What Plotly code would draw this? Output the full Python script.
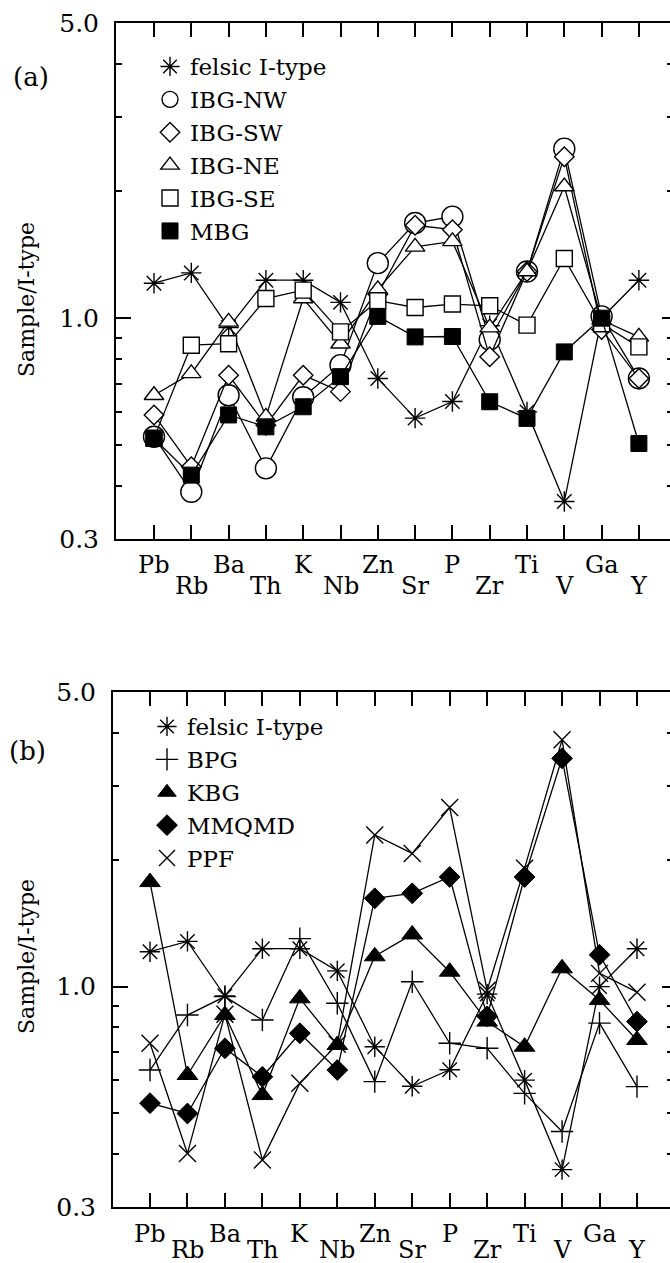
import math
import plotly.graph_objects as go

# ---------------- data ----------------
categories = ["Pb", "Rb", "Ba", "Th", "K", "Nb", "Zn", "Sr", "P", "Zr", "Ti", "V", "Ga", "Y"]

felsic_I_type = [1.21, 1.28, 0.95, 1.23, 1.23, 1.09, 0.72, 0.58, 0.635, 0.96, 0.60, 0.368, 1.0, 1.23]

# panel (a)
ibg_nw = [0.524, 0.388, 0.657, 0.441, 0.65, 0.774, 1.35, 1.68, 1.74, 0.89, 1.29, 2.52, 1.01, 0.72]
ibg_sw = [0.59, 0.445, 0.733, 0.558, 0.733, 0.67, 1.14, 1.66, 1.62, 0.81, 1.29, 2.41, 0.94, 0.72]
ibg_ne = [0.657, 0.74, 0.98, 0.584, 1.113, 0.87, 1.17, 1.475, 1.52, 0.95, 1.29, 2.05, 0.99, 0.903]
ibg_se = [0.52, 0.863, 0.87, 1.113, 1.165, 0.928, 1.10, 1.06, 1.08, 1.07, 0.963, 1.385, 0.97, 0.855]
mbg = [0.519, 0.425, 0.59, 0.553, 0.617, 0.727, 1.01, 0.903, 0.905, 0.634, 0.579, 0.832, 1.0, 0.505]

# panel (b)
bpg = [0.634, 0.856, 0.947, 0.833, 1.30, 0.913, 0.595, 1.027, 0.734, 0.714, 0.558, 0.453, 0.819, 0.579]
kbg = [1.77, 0.617, 0.856, 0.553, 0.938, 0.727, 1.18, 1.33, 1.085, 0.826, 0.72, 1.105, 0.929, 0.747]
mmqmd = [0.529, 0.50, 0.714, 0.611, 0.775, 0.634, 1.62, 1.665, 1.82, 0.85, 1.82, 3.48, 1.19, 0.826]
ppf = [0.734, 0.402, 0.86, 0.388, 0.59, 0.73, 2.29, 2.07, 2.66, 0.98, 1.91, 3.85, 1.075, 0.97]

y_tick_vals = [0.3, 1.0, 5.0]
y_tick_text = ["0.3", "1.0", "5.0"]
y_minor_vals = [0.4, 0.5, 0.6, 0.7, 0.8, 0.9, 2, 3, 4]
y_title = "Sample/I-type"
panel_labels = ["(a)", "(b)"]

# ---------------- style ----------------
W, H = 670, 1263
SERIF = "DejaVu Serif"
BLACK = "black"

series_a = [
    ("felsic I-type", felsic_I_type, dict(symbol="asterisk-open", size=17, color=BLACK, line=dict(color=BLACK, width=1.4))),
    ("IBG-NW", ibg_nw, dict(symbol="circle", size=21, color="white", line=dict(color=BLACK, width=1.4))),
    ("IBG-SW", ibg_sw, dict(symbol="diamond", size=15, color="white", line=dict(color=BLACK, width=1.4))),
    ("IBG-NE", ibg_ne, dict(symbol="triangle-up", size=17, color="white", line=dict(color=BLACK, width=1.4))),
    ("IBG-SE", ibg_se, dict(symbol="square", size=16, color="white", line=dict(color=BLACK, width=1.4))),
    ("MBG", mbg, dict(symbol="square", size=16, color=BLACK, line=dict(color=BLACK, width=1))),
]
series_b = [
    ("felsic I-type", felsic_I_type, dict(symbol="asterisk-open", size=17, color=BLACK, line=dict(color=BLACK, width=1.4))),
    ("BPG", bpg, dict(symbol="cross-thin-open", size=16, color=BLACK, line=dict(color=BLACK, width=1.4))),
    ("KBG", kbg, dict(symbol="triangle-up", size=18, color=BLACK, line=dict(color=BLACK, width=1))),
    ("MMQMD", mmqmd, dict(symbol="diamond", size=16, color=BLACK, line=dict(color=BLACK, width=1))),
    ("PPF", ppf, dict(symbol="x-thin-open", size=17, color=BLACK, line=dict(color=BLACK, width=1.4))),
]

# pixel geometry of the two panels
panels = [
    dict(left=116, top=23, bottom=539, first=154, step=37.3, up=26, down=47,
         leg_x=150, leg_y=45, title_y=300, lab_x=31, lab_y=77),
    dict(left=113, top=692, bottom=1207, first=150, step=37.46, up=27, down=43,
         leg_x=147, leg_y=705, title_y=957, lab_x=27, lab_y=751),
]

yrange = [math.log10(0.3), math.log10(5.0)]
fig = go.Figure()

for k, (series, p) in enumerate(zip([series_a, series_b], panels)):
    sfx = "" if k == 0 else str(k + 1)
    rsfx = str(k + 3)
    xa, ya, yr = "x" + sfx, "y" + sfx, "y" + rsfx
    leg = "legend" + sfx
    for name, vals, mk in series:
        fig.add_trace(go.Scatter(
            x=categories, y=vals, mode="lines+markers", name=name,
            xaxis=xa, yaxis=ya, showlegend=False,
            line=dict(color=BLACK, width=1.3), marker=mk, cliponaxis=False))
    for name, vals, mk in series:
        fig.add_trace(go.Scatter(
            x=[None], y=[None], mode="markers", name=name,
            xaxis=xa, yaxis=ya, showlegend=True, legend=leg, marker=mk))
    # empty trace so the right-hand tick axis is drawn
    fig.add_trace(go.Scatter(x=[None], y=[None], mode="markers", xaxis=xa, yaxis=yr,
                             showlegend=False, hoverinfo="skip"))

    xdom = [p["left"] / W, 1.0]
    ydom = [1 - p["bottom"] / H, 1 - p["top"] / H]
    xr = [-(p["first"] - p["left"]) / p["step"], (W - p["first"]) / p["step"]]

    fig.update_layout(**{
        "xaxis" + sfx: dict(
            domain=xdom, anchor=ya, type="category", categoryorder="array",
            categoryarray=categories, range=xr, showticklabels=False,
            automargin=False,
            ticks="inside", ticklen=14, tickwidth=1.6, tickcolor=BLACK,
            showline=True, linewidth=2, linecolor=BLACK, mirror="ticks",
            showgrid=False, zeroline=False),
        "yaxis" + sfx: dict(
            domain=ydom, anchor=xa, type="log", automargin=False,
            range=yrange,
            tickmode="array", tickvals=y_tick_vals, ticktext=y_tick_text,
            ticks="inside", ticklen=15, tickwidth=1.6, tickcolor=BLACK,
            tickfont=dict(family=SERIF, size=25, color=BLACK),
            ticklabelstandoff=10,
            showline=True, linewidth=2, linecolor=BLACK, mirror=False,
            showgrid=False, zeroline=False,
            minor=dict(tickmode="array", tickvals=y_minor_vals, ticks="inside",
                       ticklen=6, tickwidth=1.6, tickcolor=BLACK, showgrid=False)),
        "yaxis" + rsfx: dict(
            overlaying=ya, side="right", anchor=xa, type="log", automargin=False,
            range=yrange, tickmode="array", tickvals=y_tick_vals,
            showticklabels=False, ticks="inside", ticklen=8, tickwidth=1.6,
            tickcolor=BLACK, showline=False, showgrid=False, zeroline=False,
            minor=dict(tickmode="array", tickvals=y_minor_vals, ticks="inside",
                       ticklen=3, tickwidth=1.6, tickcolor=BLACK, showgrid=False)),
        leg: dict(
            x=p["leg_x"] / W, y=1 - p["leg_y"] / H, xanchor="left", yanchor="top",
            bgcolor="rgba(0,0,0,0)", borderwidth=0, itemsizing="trace",
            font=dict(family=SERIF, size=23, color=BLACK), tracegroupgap=0),
    })

    # category labels, alternating up / down
    for i, c in enumerate(categories):
        fig.add_annotation(
            x=c, xref=xa, y=0, yref=ya + " domain", yanchor="middle",
            yshift=-(p["up"] if i % 2 == 0 else p["down"]),
            text=c, showarrow=False,
            font=dict(family=SERIF, size=24, color=BLACK))

    fig.add_annotation(
        x=26 / W, xref="paper", y=1 - p["title_y"] / H, yref="paper",
        text=y_title, textangle=-90, showarrow=False,
        xanchor="center", yanchor="middle",
        font=dict(family=SERIF, size=22, color=BLACK))
    fig.add_annotation(
        x=p["lab_x"] / W, xref="paper", y=1 - p["lab_y"] / H, yref="paper",
        text=panel_labels[k], showarrow=False, xanchor="center", yanchor="middle",
        font=dict(family=SERIF, size=26, color=BLACK))

fig.update_layout(
    width=W, height=H, margin=dict(l=0, r=0, t=0, b=0, autoexpand=False),
    paper_bgcolor="white", plot_bgcolor="white",
    font=dict(family=SERIF, color=BLACK))

fig.write_html("out.html", config={"displayModeBar": False},
               post_script="document.body.style.margin='0px';")
